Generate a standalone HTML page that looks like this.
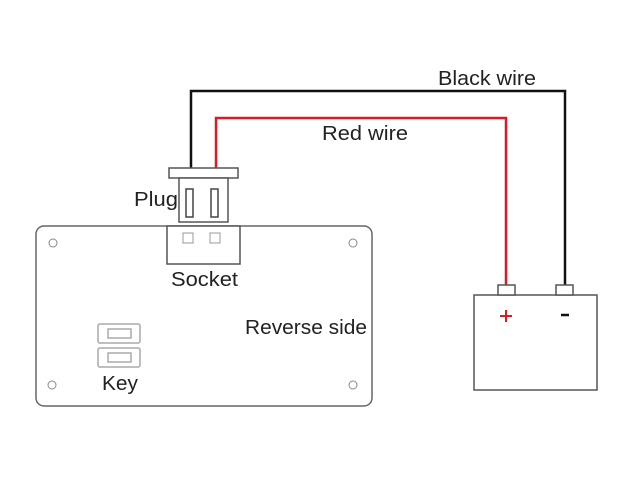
<!DOCTYPE html>
<html><head><style>body{margin:0;background:#fff}svg{display:block}</style></head><body>
<svg width="640" height="480" xmlns="http://www.w3.org/2000/svg" font-family="Liberation Sans, DejaVu Sans, sans-serif" font-size="20" fill="#222">
<polyline points="191,170 191,91 565,91 565,286" fill="none" stroke="#111" stroke-width="2.5"/>
<polyline points="216,170 216,118 506,118 506,286" fill="none" stroke="#d81c24" stroke-width="2.5"/>
<text x="438" y="85" textLength="98" lengthAdjust="spacingAndGlyphs">Black wire</text>
<text x="322" y="140" textLength="86" lengthAdjust="spacingAndGlyphs">Red wire</text>
<rect x="36" y="226" width="336" height="180" rx="8" fill="#fff" stroke="#666" stroke-width="1.5"/>
<g fill="none" stroke="#888" stroke-width="1"><circle cx="53" cy="243" r="4"/><circle cx="353" cy="243" r="4"/><circle cx="52" cy="385" r="4"/><circle cx="353" cy="385" r="4"/></g>
<rect x="167" y="226" width="73" height="38" fill="#fff" stroke="#555" stroke-width="1.5"/>
<rect x="183" y="233" width="10" height="10" fill="none" stroke="#999"/>
<rect x="210" y="233" width="10" height="10" fill="none" stroke="#999"/>
<rect x="169" y="168" width="69" height="10" fill="#fff" stroke="#555" stroke-width="1.5"/>
<rect x="179" y="178" width="49" height="44" fill="#fff" stroke="#555" stroke-width="1.5"/>
<rect x="186" y="189" width="7" height="28" fill="none" stroke="#444" stroke-width="1.5"/>
<rect x="211" y="189" width="7" height="28" fill="none" stroke="#444" stroke-width="1.5"/>
<text x="134" y="206" textLength="44" lengthAdjust="spacingAndGlyphs">Plug</text>
<text x="171" y="286" textLength="67" lengthAdjust="spacingAndGlyphs">Socket</text>
<text x="245" y="334" textLength="122" lengthAdjust="spacingAndGlyphs">Reverse side</text>
<g fill="none" stroke="#aaa" stroke-width="1.5"><rect x="98" y="324" width="42" height="19" rx="2"/><rect x="108" y="329" width="23" height="9"/><rect x="98" y="348" width="42" height="19" rx="2"/><rect x="108" y="353" width="23" height="9"/></g>
<text x="102" y="390" textLength="36" lengthAdjust="spacingAndGlyphs">Key</text>
<rect x="474" y="295" width="123" height="95" fill="#fff" stroke="#555" stroke-width="1.5"/>
<rect x="498" y="285" width="17" height="10" fill="#fff" stroke="#555" stroke-width="1.5"/>
<rect x="556" y="285" width="17" height="10" fill="#fff" stroke="#555" stroke-width="1.5"/>
<path d="M500 316h12M506 310v12" stroke="#d81c24" stroke-width="2"/>
<path d="M561 315h8" stroke="#111" stroke-width="2.5"/>
</svg>
</body></html>
